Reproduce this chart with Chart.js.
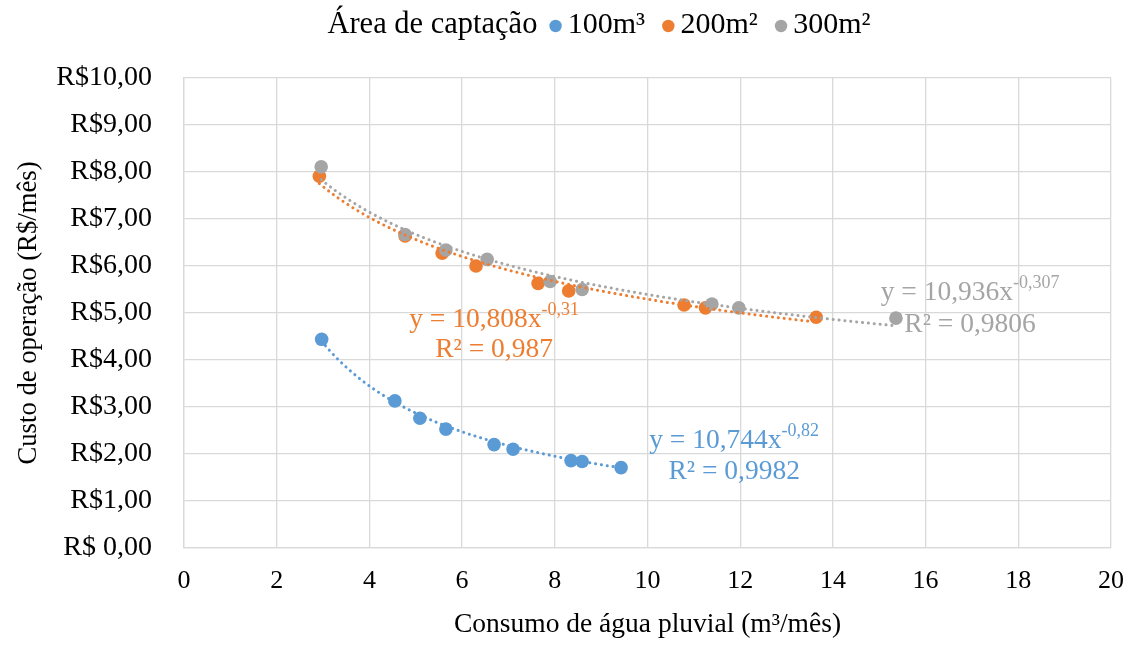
<!DOCTYPE html>
<html>
<head>
<meta charset="utf-8">
<script src="https://cdn.jsdelivr.net/npm/chart.js@4/dist/chart.umd.min.js"></script>
<style>
  html, body { margin: 0; padding: 0; background: #ffffff; }
  #wrap { width: 1135px; height: 645px; position: relative; }
</style>
</head>
<body>
<div id="wrap"><canvas id="c"></canvas></div>
<script>
// Consumo de água pluvial (m³/mês) x custo de operação (R$/mês), por área de captação
const seriesNames = ['100m³', '200m²', '300m²'];
const seriesColors = ['#5B9BD5', '#ED7D31', '#A5A5A5'];

const consumo100 = [2.97, 4.55, 5.09, 5.65, 6.69, 7.10, 8.35, 8.59, 9.43];
const custo100   = [4.44, 3.13, 2.76, 2.53, 2.20, 2.10, 1.86, 1.84, 1.71];

const consumo200 = [2.92, 4.77, 5.57, 6.30, 7.64, 8.30, 10.79, 11.25, 13.64];
const custo200   = [7.91, 6.64, 6.27, 6.00, 5.63, 5.47, 5.17, 5.11, 4.91];

const consumo300 = [2.96, 4.77, 5.65, 6.54, 7.90, 8.59, 11.39, 11.97, 15.36];
const custo300   = [8.11, 6.67, 6.34, 6.14, 5.67, 5.50, 5.19, 5.11, 4.89];

// Linhas de tendência potência: y = a·x^b
const trendCoef = [10.744, 10.808, 10.936];
const trendExp  = [-0.82, -0.31, -0.307];
const trendR2   = ['0,9982', '0,987', '0,9806'];

const xTickValues = [0, 2, 4, 6, 8, 10, 12, 14, 16, 18, 20];
const yTickLabels = ['R$ 0,00', 'R$1,00', 'R$2,00', 'R$3,00', 'R$4,00', 'R$5,00',
                     'R$6,00', 'R$7,00', 'R$8,00', 'R$9,00', 'R$10,00'];

const legendTitle = 'Área de captação';
const xTitle = 'Consumo de água pluvial (m³/mês)';
const yTitle = 'Custo de operação (R$/mês)';

const xs = [consumo100, consumo200, consumo300];
const ys = [custo100, custo200, custo300];

// Where the equation boxes sit, in axis units: [x center, line-1 y, line-2 y]
const eqPlacement = [
  [11.87, 2.28, 1.62],
  [6.69, 4.85, 4.21],
  [16.96, 5.43, 4.74]
];

const FONT = '"Liberation Serif", "Times New Roman", serif';
const fmt = (v) => String(v).replace('.', ',');

function trendPoints(i) {
  const lo = Math.min(...xs[i]), hi = Math.max(...xs[i]);
  const n = 80, pts = [];
  for (let k = 0; k <= n; k++) {
    const x = lo + (hi - lo) * k / n;
    pts.push({ x, y: trendCoef[i] * Math.pow(x, trendExp[i]) });
  }
  return pts;
}

const datasets = [];
// trend lines on top of markers
for (let i = 0; i < 3; i++) {
  datasets.push({
    label: 'trend ' + seriesNames[i],
    data: trendPoints(i),
    showLine: true,
    borderColor: seriesColors[i],
    borderWidth: 3,
    borderDash: [0.1, 5.8],
    borderCapStyle: 'round',
    pointRadius: 0,
    pointHoverRadius: 0,
    fill: false,
    order: 0
  });
}
// markers: gray above orange above blue
for (let i = 0; i < 3; i++) {
  datasets.push({
    label: seriesNames[i],
    data: xs[i].map((x, k) => ({ x, y: ys[i][k] })),
    showLine: false,
    backgroundColor: seriesColors[i],
    borderColor: seriesColors[i],
    borderWidth: 0,
    pointRadius: 6.8,
    pointHoverRadius: 6.8,
    order: 3 - i
  });
}

const legendAndEquations = {
  id: 'legendAndEquations',
  afterDatasetsDraw(chart) {
    const ctx = chart.ctx;
    const xs_ = chart.scales.x, ys_ = chart.scales.y;
    ctx.save();

    // equations of the trend lines
    const mainFont = '27.5px ' + FONT, supFont = '18px ' + FONT;
    for (let i = 0; i < 3; i++) {
      const [cx, y1, y2] = eqPlacement[i];
      const px = xs_.getPixelForValue(cx);
      const main = 'y = ' + fmt(trendCoef[i]) + 'x';
      const sup = fmt(trendExp[i]);
      ctx.fillStyle = seriesColors[i];
      ctx.textBaseline = 'middle';
      ctx.font = mainFont;
      const wMain = ctx.measureText(main).width;
      ctx.font = supFont;
      const wSup = ctx.measureText(sup).width;
      const left = px - (wMain + wSup) / 2;
      const py1 = ys_.getPixelForValue(y1);
      ctx.textAlign = 'left';
      ctx.font = mainFont;
      ctx.fillText(main, left, py1);
      ctx.font = supFont;
      ctx.fillText(sup, left + wMain, py1 - 10);
      ctx.font = mainFont;
      ctx.textAlign = 'center';
      ctx.fillText('R² = ' + trendR2[i], px, ys_.getPixelForValue(y2));
    }

    // legend row
    const ly = 25, r = 6.2;
    ctx.textBaseline = 'middle';
    ctx.textAlign = 'left';
    const titleFont = '30.5px ' + FONT, itemFont = '30px ' + FONT;
    ctx.font = titleFont;
    const titleW = ctx.measureText(legendTitle).width;
    ctx.font = itemFont;
    const itemW = seriesNames.map(s => ctx.measureText(s).width);
    const gapTitle = 12, gapDot = 6, gapItem = 17;
    let total = titleW;
    itemW.forEach((w, k) => { total += (k === 0 ? gapTitle : gapItem) + 2 * r + gapDot + w; });
    let x = 599 - total / 2;
    ctx.fillStyle = '#000000';
    ctx.font = titleFont;
    ctx.fillText(legendTitle, x, ly);
    x += titleW;
    ctx.font = itemFont;
    seriesNames.forEach((s, k) => {
      x += (k === 0 ? gapTitle : gapItem);
      ctx.fillStyle = seriesColors[k];
      ctx.beginPath();
      ctx.arc(x + r, ly + 1, r, 0, Math.PI * 2);
      ctx.fill();
      x += 2 * r + gapDot;
      ctx.fillStyle = '#000000';
      ctx.fillText(s, x, ly);
      x += itemW[k];
    });
    ctx.restore();
  }
};

new Chart(document.getElementById('c'), {
  type: 'scatter',
  data: { datasets },
  options: {
    responsive: true,
    maintainAspectRatio: false,
    animation: false,
    events: [],
    layout: { padding: { top: 78, right: 24, bottom: 0, left: 0 } },
    plugins: {
      legend: { display: false },
      tooltip: { enabled: false }
    },
    scales: {
      x: {
        type: 'linear',
        min: 0, max: 20,
        afterBuildTicks(scale) { scale.ticks = xTickValues.map(v => ({ value: v })); },
        afterFit(scale) {
          scale.height = 97;
          scale.paddingLeft = 0;
          scale.paddingRight = 0;
        },
        grid: { color: '#D9D9D9', lineWidth: 1.3, drawTicks: false },
        border: { color: '#D9D9D9', width: 1.3 },
        ticks: {
          color: '#000000',
          padding: 18,
          font: { family: FONT, size: 26 },
          maxRotation: 0
        },
        title: {
          display: true,
          text: xTitle,
          color: '#000000',
          font: { family: FONT, size: 27.5 },
          padding: { top: 0, bottom: 4 }
        }
      },
      y: {
        type: 'linear',
        min: 0, max: 10,
        afterBuildTicks(scale) { scale.ticks = yTickLabels.map((_, v) => ({ value: v })); },
        afterFit(scale) {
          scale.width = 184;
          scale.paddingTop = 0;
          scale.paddingBottom = 0;
        },
        grid: { color: '#D9D9D9', lineWidth: 1.3, drawTicks: false },
        border: { color: '#D9D9D9', width: 1.3 },
        ticks: {
          color: '#000000',
          padding: 32,
          font: { family: FONT, size: 28 },
          callback: (v) => yTickLabels[Math.round(v)]
        },
        title: {
          display: true,
          text: yTitle,
          color: '#000000',
          font: { family: FONT, size: 26.7 },
          padding: { top: 13, bottom: 0 }
        }
      }
    }
  },
  plugins: [legendAndEquations]
});
</script>
</body>
</html>
